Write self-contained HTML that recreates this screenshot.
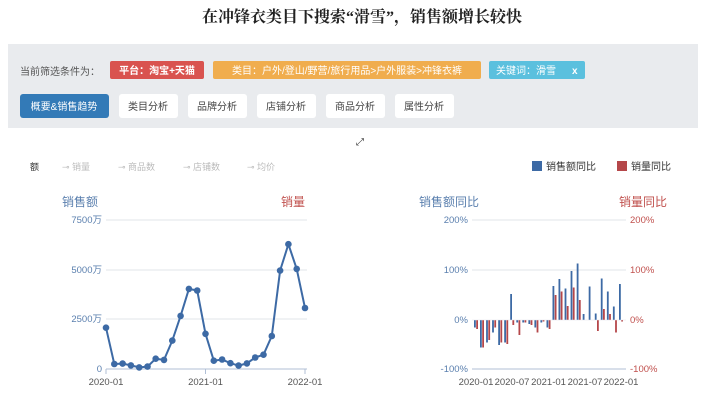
<!DOCTYPE html>
<html><head><meta charset="utf-8"><style>
body{margin:0;background:#fff;width:724px;height:414px;overflow:hidden;font-family:"Liberation Sans","Noto Sans CJK SC",sans-serif}
</style></head><body>
<svg width="724" height="414" xmlns="http://www.w3.org/2000/svg" font-family="Liberation Sans, Noto Sans CJK SC, sans-serif">
<text x="362" y="22" text-anchor="middle" font-size="16" font-weight="bold" fill="#222" font-family="Liberation Serif, Noto Serif CJK SC, serif">在冲锋衣类目下搜索“滑雪”，销售额增长较快</text>
<rect x="8" y="44" width="690" height="84" fill="#e9ebee"/>
<text x="20" y="75" font-size="10" fill="#555">当前筛选条件为：</text>
<rect x="110" y="61" width="94" height="18" rx="2" fill="#d9534f"/>
<text x="157" y="74" font-size="10" fill="#fff" text-anchor="middle" font-weight="bold">平台：淘宝+天猫</text>
<rect x="213" y="61" width="268" height="18" rx="2" fill="#f0ad4e"/>
<text x="347" y="74" font-size="10" fill="#fff" text-anchor="middle">类目：户外/登山/野营/旅行用品&gt;户外服装&gt;冲锋衣裤</text>
<rect x="489" y="61" width="96" height="18" rx="2" fill="#5bc0de"/>
<text x="496" y="74" font-size="10" fill="#fff">关键词：滑雪</text>
<text x="572" y="74" font-size="10" fill="#fff" font-weight="bold">x</text>
<rect x="20" y="94" width="89" height="24" rx="3" fill="#337ab7"/>
<text x="64" y="110" font-size="10" fill="#fff" text-anchor="middle">概要&amp;销售趋势</text>
<g font-size="10" fill="#444" text-anchor="middle">
<rect x="119" y="94" width="59" height="24" rx="3" fill="#fff"/><text x="148" y="110">类目分析</text>
<rect x="188" y="94" width="59" height="24" rx="3" fill="#fff"/><text x="217" y="110">品牌分析</text>
<rect x="257" y="94" width="59" height="24" rx="3" fill="#fff"/><text x="286" y="110">店铺分析</text>
<rect x="326" y="94" width="59" height="24" rx="3" fill="#fff"/><text x="355" y="110">商品分析</text>
<rect x="395" y="94" width="59" height="24" rx="3" fill="#fff"/><text x="424" y="110">属性分析</text>
</g>
<text x="360" y="145" font-size="10" fill="#333" text-anchor="middle">⤢</text>
<g font-size="9" fill="#bbb">
<text x="30" y="170" fill="#333">额</text>
<text x="62" y="170">⊸ 销量</text>
<text x="118" y="170">⊸ 商品数</text>
<text x="183" y="170">⊸ 店铺数</text>
<text x="247" y="170">⊸ 均价</text>
</g>
<rect x="532" y="161" width="10" height="10" fill="#3d6aa5"/><text x="546" y="170" font-size="10" fill="#333">销售额同比</text>
<rect x="617" y="161" width="10" height="10" fill="#b5474a"/><text x="631" y="170" font-size="10" fill="#333">销量同比</text>

<!-- left chart -->
<text x="62" y="206" font-size="12" fill="#5a7fae">销售额</text>
<text x="305" y="206" font-size="12" fill="#c0504d" text-anchor="end">销量</text>
<g stroke="#e2e4ea" stroke-width="1">
<line x1="106" y1="220" x2="307" y2="220"/><line x1="106" y1="270" x2="307" y2="270"/><line x1="106" y1="319" x2="307" y2="319"/>
</g>
<line x1="106" y1="369" x2="307" y2="369" stroke="#b0bfd6"/>
<g stroke="#b0bfd6"><line x1="106" y1="369" x2="106" y2="374"/><line x1="205.5" y1="369" x2="205.5" y2="374"/><line x1="305" y1="369" x2="305" y2="374"/></g>
<g font-size="9.5" fill="#5a7fae" text-anchor="end">
<text x="102" y="223">7500万</text><text x="102" y="273">5000万</text><text x="102" y="322">2500万</text><text x="102" y="372">0</text>
</g>
<g font-size="9.5" fill="#555" text-anchor="middle">
<text x="106" y="385">2020-01</text><text x="205.5" y="385">2021-01</text><text x="305" y="385">2022-01</text>
</g>
<polyline fill="none" stroke="#3d6aa5" stroke-width="2" stroke-linejoin="round" points="106,327.7 114.3,364 122.6,363.6 130.9,365.4 139.2,367.4 147.5,366.6 155.7,358.7 164,359.9 172.3,340.6 180.6,315.9 188.9,288.9 197.2,290.5 205.5,333.8 213.8,360.7 222.1,359.5 230.4,363.2 238.6,365.6 246.9,363.4 255.2,357.5 263.5,354.7 271.8,336 280.1,270.6 288.4,244.2 296.7,268.9 305,308"/>
<g fill="#3d6aa5">
<circle cx="106" cy="327.7" r="3.3"/><circle cx="114.3" cy="364" r="3.3"/><circle cx="122.6" cy="363.6" r="3.3"/><circle cx="130.9" cy="365.4" r="3.3"/><circle cx="139.2" cy="367.4" r="3.3"/><circle cx="147.5" cy="366.6" r="3.3"/><circle cx="155.7" cy="358.7" r="3.3"/><circle cx="164" cy="359.9" r="3.3"/><circle cx="172.3" cy="340.6" r="3.3"/><circle cx="180.6" cy="315.9" r="3.3"/><circle cx="188.9" cy="288.9" r="3.3"/><circle cx="197.2" cy="290.5" r="3.3"/><circle cx="205.5" cy="333.8" r="3.3"/><circle cx="213.8" cy="360.7" r="3.3"/><circle cx="222.1" cy="359.5" r="3.3"/><circle cx="230.4" cy="363.2" r="3.3"/><circle cx="238.6" cy="365.6" r="3.3"/><circle cx="246.9" cy="363.4" r="3.3"/><circle cx="255.2" cy="357.5" r="3.3"/><circle cx="263.5" cy="354.7" r="3.3"/><circle cx="271.8" cy="336" r="3.3"/><circle cx="280.1" cy="270.6" r="3.3"/><circle cx="288.4" cy="244.2" r="3.3"/><circle cx="296.7" cy="268.9" r="3.3"/><circle cx="305" cy="308" r="3.3"/>
</g>

<!-- right chart -->
<text x="419" y="206" font-size="12" fill="#5a7fae">销售额同比</text>
<text x="667" y="206" font-size="12" fill="#c0504d" text-anchor="end">销量同比</text>
<g stroke="#e2e4ea"><line x1="472" y1="220" x2="626" y2="220"/><line x1="472" y1="270" x2="626" y2="270"/></g>
<line x1="472" y1="369" x2="626" y2="369" stroke="#b0bfd6"/>
<g font-size="9.5" fill="#5a7fae" text-anchor="end">
<text x="468" y="223">200%</text><text x="468" y="273">100%</text><text x="468" y="323">0%</text><text x="468" y="372">-100%</text>
</g>
<g font-size="9.5" fill="#c0504d">
<text x="630" y="223">200%</text><text x="630" y="273">100%</text><text x="630" y="323">0%</text><text x="630" y="372">-100%</text>
</g>
<g font-size="9.5" fill="#555" text-anchor="middle">
<text x="476" y="385">2020-01</text><text x="512" y="385">2020-07</text><text x="548.5" y="385">2021-01</text><text x="585" y="385">2021-07</text><text x="621" y="385">2022-01</text>
</g>
<g fill="#3d6aa5">
<rect x="474" y="320" width="1.8" height="7.5"/>
<rect x="480" y="320" width="1.8" height="27.5"/>
<rect x="486.1" y="320" width="1.8" height="22.5"/>
<rect x="492.1" y="320" width="1.8" height="12.5"/>
<rect x="498.2" y="320" width="1.8" height="25"/>
<rect x="504.2" y="320" width="1.8" height="22.5"/>
<rect x="510.2" y="294" width="1.8" height="26"/>
<rect x="516.3" y="320" width="1.8" height="2.5"/>
<rect x="522.3" y="320" width="1.8" height="2.5"/>
<rect x="528.4" y="320" width="1.8" height="4"/>
<rect x="534.4" y="320" width="1.8" height="7.5"/>
<rect x="540.4" y="320" width="1.8" height="2.5"/>
<rect x="546.5" y="320" width="1.8" height="7.5"/>
<rect x="552.5" y="286" width="1.8" height="34"/>
<rect x="558.5" y="279" width="1.8" height="41"/>
<rect x="564.6" y="288.5" width="1.8" height="31.5"/>
<rect x="570.6" y="271" width="1.8" height="49"/>
<rect x="576.7" y="263.5" width="1.8" height="56.5"/>
<rect x="582.7" y="314" width="1.8" height="6"/>
<rect x="588.7" y="286.5" width="1.8" height="33.5"/>
<rect x="594.8" y="313.5" width="1.8" height="6.5"/>
<rect x="600.8" y="278.5" width="1.8" height="41.5"/>
<rect x="606.9" y="291.5" width="1.8" height="28.5"/>
<rect x="612.9" y="306.5" width="1.8" height="13.5"/>
<rect x="619" y="284" width="1.8" height="36"/>
</g>
<g fill="#b5474a">
<rect x="476.2" y="320" width="1.8" height="9"/>
<rect x="482.2" y="320" width="1.8" height="27.5"/>
<rect x="488.3" y="320" width="1.8" height="20"/>
<rect x="494.3" y="320" width="1.8" height="7.5"/>
<rect x="500.4" y="320" width="1.8" height="22.5"/>
<rect x="506.4" y="320" width="1.8" height="24"/>
<rect x="512.4" y="320" width="1.8" height="5"/>
<rect x="518.5" y="320" width="1.8" height="15"/>
<rect x="524.5" y="320" width="1.8" height="2.5"/>
<rect x="530.6" y="320" width="1.8" height="5"/>
<rect x="536.6" y="320" width="1.8" height="12.5"/>
<rect x="542.6" y="320" width="1.8" height="1.5"/>
<rect x="548.7" y="320" width="1.8" height="9"/>
<rect x="554.7" y="295" width="1.8" height="25"/>
<rect x="560.7" y="291.5" width="1.8" height="28.5"/>
<rect x="566.8" y="306" width="1.8" height="14"/>
<rect x="572.8" y="287.5" width="1.8" height="32.5"/>
<rect x="578.9" y="300" width="1.8" height="20"/>
<rect x="597" y="320" width="1.8" height="11"/>
<rect x="603" y="309" width="1.8" height="11"/>
<rect x="609.1" y="314" width="1.8" height="6"/>
<rect x="615.1" y="320" width="1.8" height="12.5"/>
<rect x="621.2" y="320" width="1.8" height="1.5"/>
</g>
<line x1="472" y1="320" x2="626" y2="320" stroke="#e2e4ea" stroke-width="0.5"/>
</svg>
</body></html>
